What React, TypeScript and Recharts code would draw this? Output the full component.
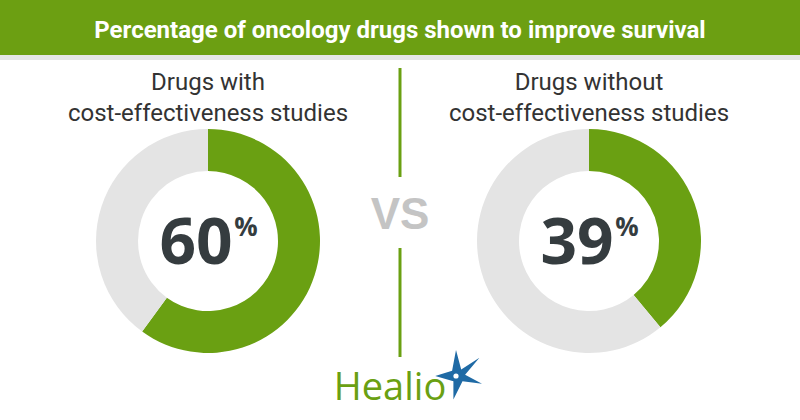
import React from 'react';
import { PieChart, Pie, Cell, Customized } from 'recharts';

const title = 'Percentage of oncology drugs shown to improve survival';
const groupLine1 = ['Drugs with', 'Drugs without'];
const groupLine2 = ['cost-effectiveness studies', 'cost-effectiveness studies'];
const improvedPct = [60, 39];
const centersX = [208, 589];

const GREEN = '#6aa012';
const GRAY = '#e4e4e4';
const DARK = '#353c3f';

const Overlay = () => (
  <g>
    <rect x={0} y={0} width={800} height={55} fill="#6c9f12" />
    <rect x={0} y={55} width={800} height={5} fill="#e6e6e6" />
    <text x={400} y={38} textAnchor="middle" fill="#fff" fontFamily="'Liberation Sans Narrow', 'Roboto', sans-serif" fontWeight="bold" fontSize={24}>{title}</text>
    {centersX.map((cx, i) => (
      <g key={i}>
        <text x={cx} y={90} textAnchor="middle" fill="#333" fontFamily="Roboto, sans-serif" fontSize={24}>{groupLine1[i]}</text>
        <text x={cx} y={121} textAnchor="middle" fill="#333" fontFamily="Roboto, sans-serif" fontSize={24}>{groupLine2[i]}</text>
        <text x={cx - 12} y={264} textAnchor="middle" fill={DARK} fontFamily="'Open Sans', sans-serif" fontWeight="bold" fontSize={64}>{improvedPct[i]}</text>
        <text x={cx + 38} y={236} textAnchor="middle" fill={DARK} fontFamily="'Open Sans', sans-serif" fontWeight="bold" fontSize={26}>%</text>
      </g>
    ))}
    <line x1={400} y1={68} x2={400} y2={177} stroke={GREEN} strokeWidth={3} />
    <line x1={400} y1={248} x2={400} y2={357} stroke={GREEN} strokeWidth={3} />
    <text x={400} y={229} textAnchor="middle" fill="#c4c4c4" fontFamily="'Liberation Sans', Arial, sans-serif" fontWeight="bold" fontSize={44}>VS</text>
    <text x={390} y={400} textAnchor="middle" fill="#6aa012" fontFamily="'Open Sans', sans-serif" fontSize={38}>Healio</text>
    <g transform="translate(456,376) scale(1.3)">
      <polygon points="0,-20 4,-5 18,-14 7,-1 20,6 5,4 -2,18 -2,4 -16,0 -3,-4" fill="#1f6aa5" />
      <circle cx={0} cy={0} r={2} fill="#fff" />
    </g>
  </g>
);

export default function App() {
  const datasets = improvedPct.map((v) => [
    { name: 'Improved survival', value: v },
    { name: 'Other', value: 100 - v },
  ]);
  return (
    <div style={{ position: 'absolute', left: 0, top: 0, width: 800, height: 420, background: '#fff' }}>
      <PieChart width={800} height={420} margin={{ top: 0, right: 0, bottom: 0, left: 0 }}>
        <Customized component={Overlay} />
        {datasets.map((d, i) => (
          <Pie
            key={i}
            data={d}
            dataKey="value"
            cx={centersX[i]}
            cy={241}
            innerRadius={70}
            outerRadius={112}
            startAngle={90}
            endAngle={-270}
            stroke="none"
            isAnimationActive={false}
          >
            <Cell fill={GREEN} />
            <Cell fill={GRAY} />
          </Pie>
        ))}
      </PieChart>
    </div>
  );
}
